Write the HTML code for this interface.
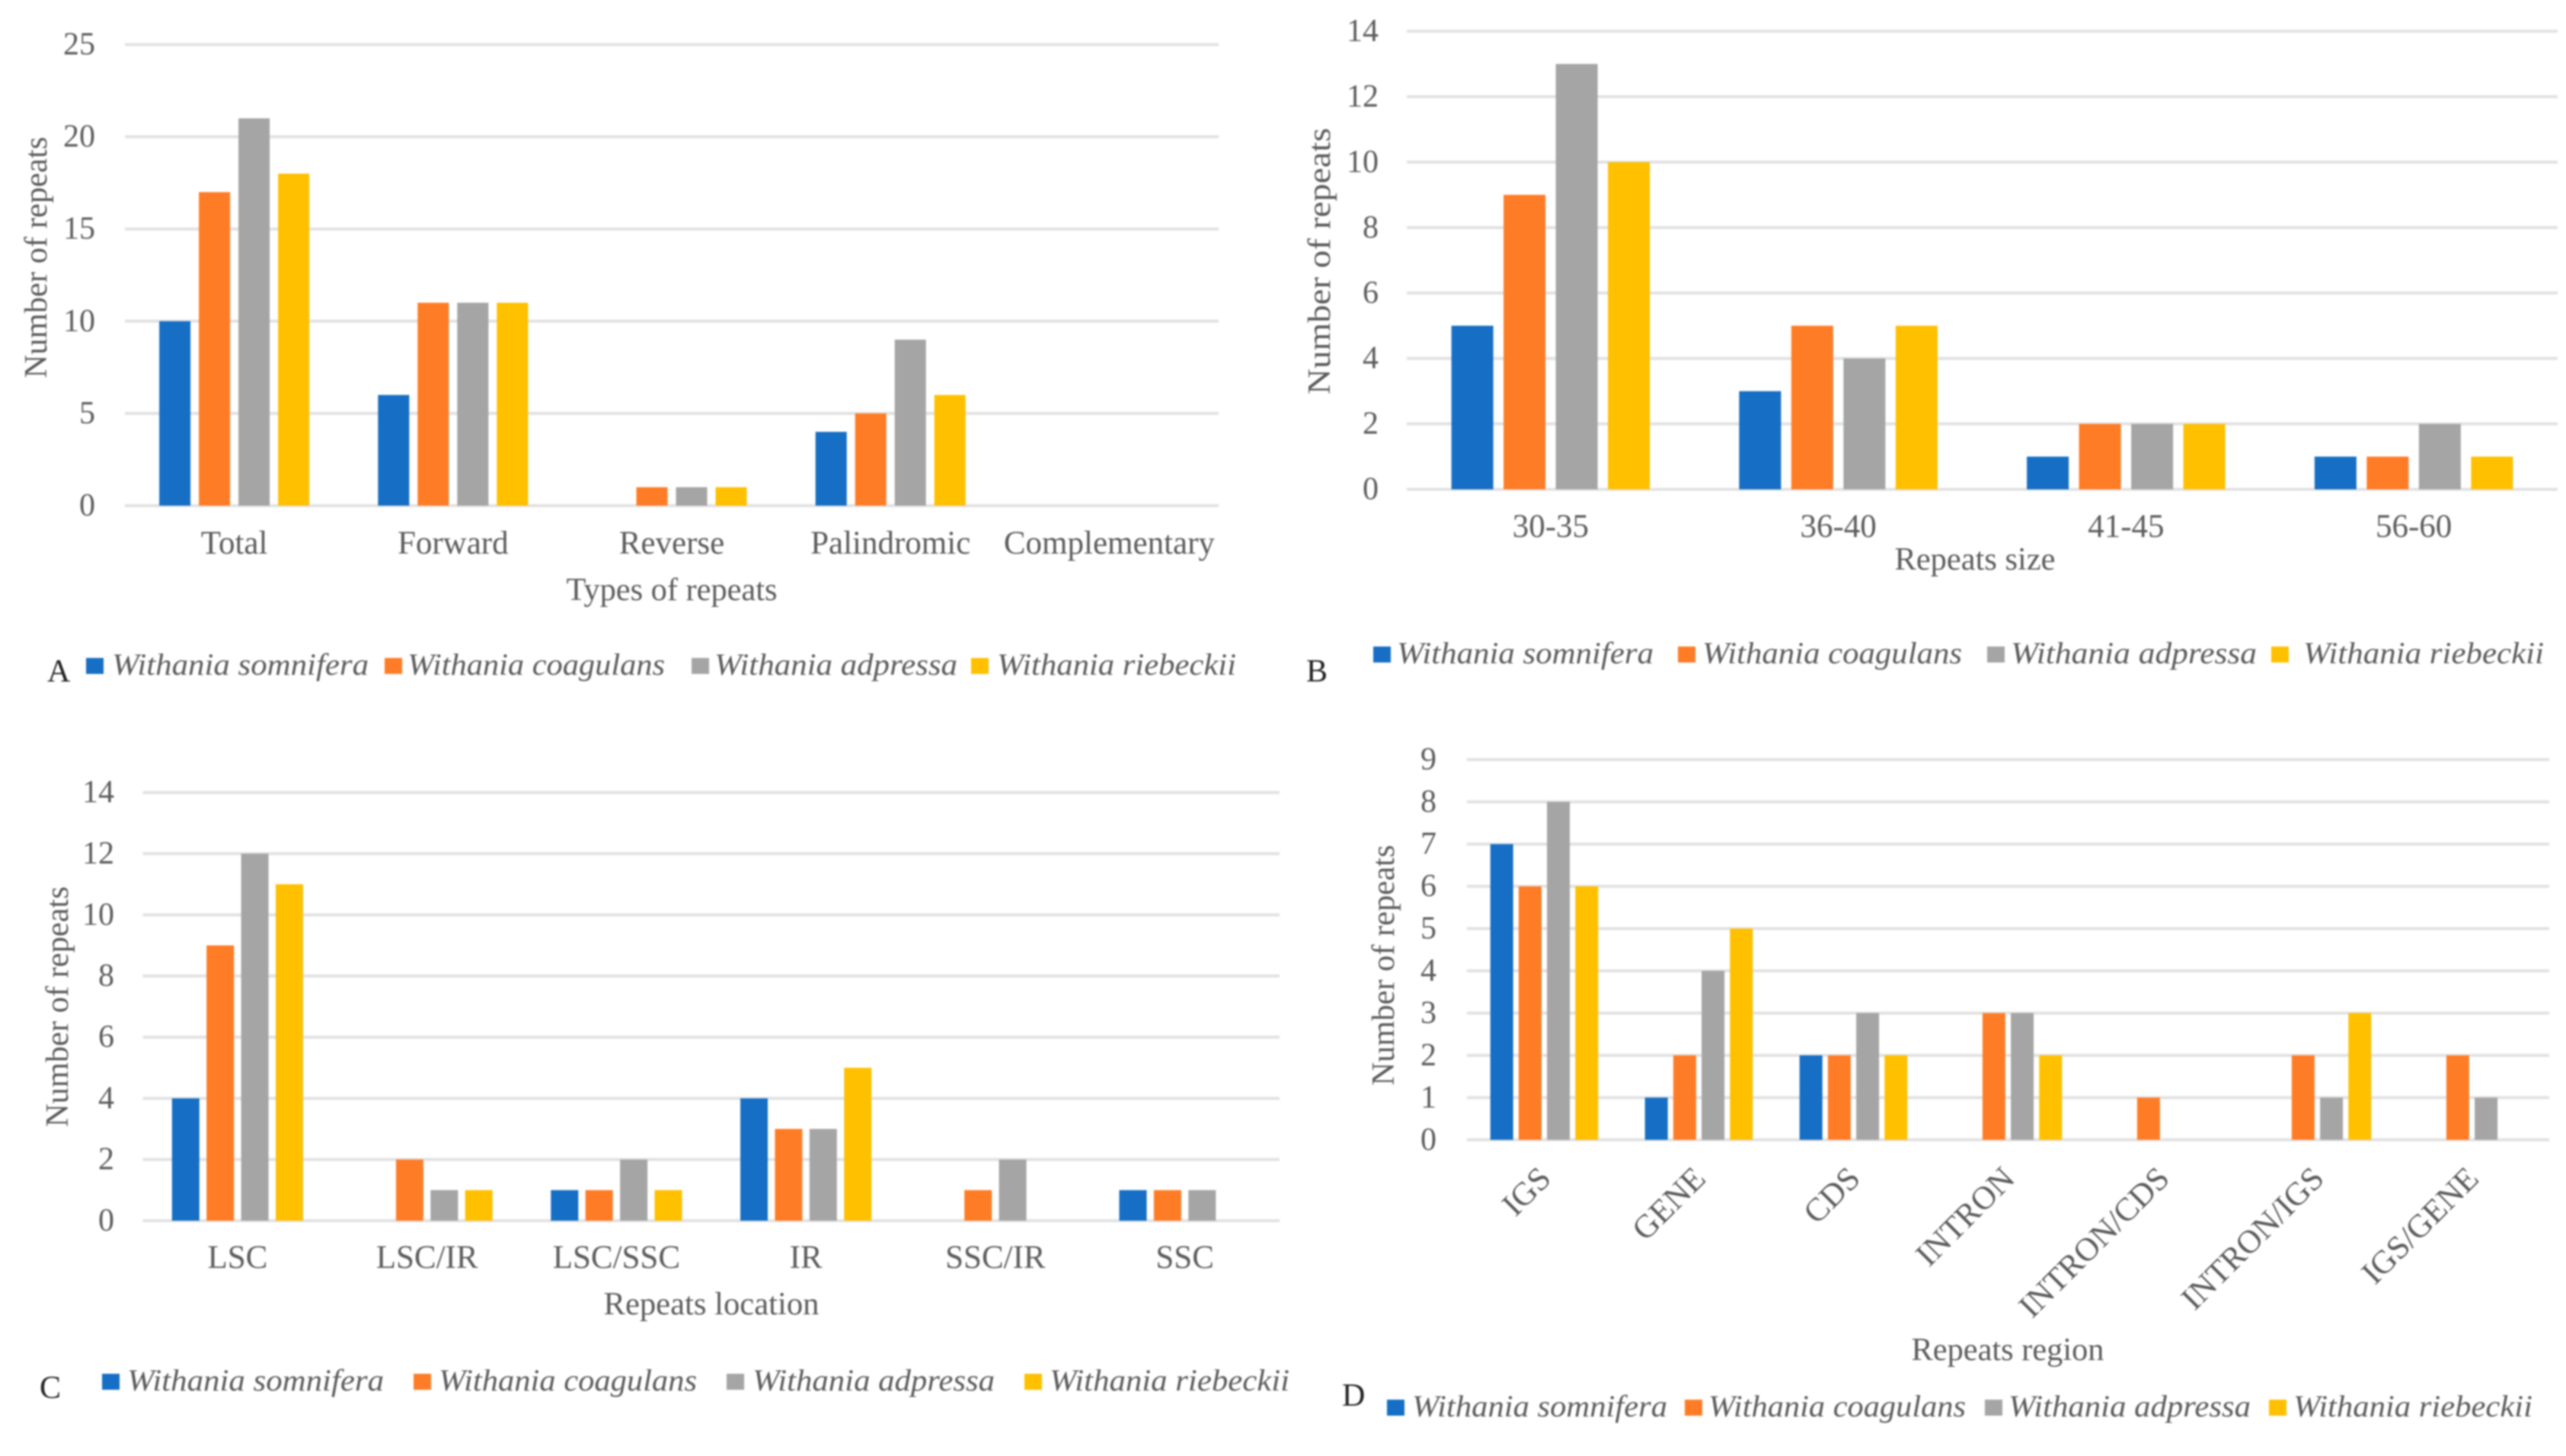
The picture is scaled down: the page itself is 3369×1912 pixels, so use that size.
<!DOCTYPE html>
<html lang="en">
<head>
<meta charset="utf-8">
<title>Repeat analysis in Withania species</title>
<style>
html,body{margin:0;padding:0;background:#fff;width:3369px;height:1912px;overflow:hidden}
svg{display:block;font-family:"Liberation Serif",serif;filter:blur(1px)}
</style>
</head>
<body>
<svg id="figure" xmlns="http://www.w3.org/2000/svg" width="3369" height="1912" viewBox="0 0 3369 1912"></svg>
<script>
// Shared series
const seriesNames = ['Withania somnifera', 'Withania coagulans', 'Withania adpressa', 'Withania riebeckii'];
const seriesColors = ['#166fc4', '#ff7c26', '#a5a5a5', '#ffc000'];

// Panel A data
const categoriesA = ['Total', 'Forward', 'Reverse', 'Palindromic', 'Complementary'];
const ticksA = [0, 5, 10, 15, 20, 25];
const somniferaA = [10, 6, 0, 4, 0];
const coagulansA = [17, 11, 1, 5, 0];
const adpressaA = [21, 11, 1, 9, 0];
const riebeckiiA = [18, 11, 1, 6, 0];

// Panel B data
const categoriesB = ['30-35', '36-40', '41-45', '56-60'];
const ticksB = [0, 2, 4, 6, 8, 10, 12, 14];
const somniferaB = [5, 3, 1, 1];
const coagulansB = [9, 5, 2, 1];
const adpressaB = [13, 4, 2, 2];
const riebeckiiB = [10, 5, 2, 1];

// Panel C data
const categoriesC = ['LSC', 'LSC/IR', 'LSC/SSC', 'IR', 'SSC/IR', 'SSC'];
const ticksC = [0, 2, 4, 6, 8, 10, 12, 14];
const somniferaC = [4, 0, 1, 4, 0, 1];
const coagulansC = [9, 2, 1, 3, 1, 1];
const adpressaC = [12, 1, 2, 3, 2, 1];
const riebeckiiC = [11, 1, 1, 5, 0, 0];

// Panel D data
const categoriesD = ['IGS', 'GENE', 'CDS', 'INTRON', 'INTRON/CDS', 'INTRON/IGS', 'IGS/GENE'];
const ticksD = [0, 1, 2, 3, 4, 5, 6, 7, 8, 9];
const somniferaD = [7, 1, 2, 0, 0, 0, 0];
const coagulansD = [6, 2, 2, 3, 1, 2, 2];
const adpressaD = [8, 4, 3, 3, 0, 1, 1];
const riebeckiiD = [6, 5, 2, 2, 0, 3, 0];

const SVG_NS = 'http://www.w3.org/2000/svg';
const TEXT_COLOR = '#5c5c5c';
const figure = document.getElementById('figure');

function shape(parent, tag, props) {
  const el = document.createElementNS(SVG_NS, tag);
  for (const k in props) el.setAttribute(k, props[k]);
  parent.appendChild(el);
  return el;
}

function label(parent, str, x, y, size, anchor, style) {
  const el = shape(parent, 'text', {
    x: x, y: y, 'font-size': size, 'text-anchor': anchor,
    fill: (style && style.fill) || TEXT_COLOR
  });
  if (style && style.italic) el.setAttribute('font-style', 'italic');
  if (style && style.length) {
    el.setAttribute('textLength', style.length);
    el.setAttribute('lengthAdjust', 'spacingAndGlyphs');
  }
  if (style && style.transform) el.setAttribute('transform', style.transform);
  el.textContent = str;
  return el;
}

function drawPanel(p) {
  const g = shape(figure, 'g', {});
  
  

  const maxTick = p.ticks[p.ticks.length - 1];
  const yScale = v => p.y0 - (v / maxTick) * (p.y0 - p.yTop);
  const groupW = (p.x1 - p.x0) / p.categories.length;
  const xCenter = i => p.x0 + (i + 0.5) * groupW;

  // gridlines + y tick labels
  p.ticks.forEach(t => {
    const line = shape(g, 'line', {
      x1: p.x0, x2: p.x1, y1: yScale(t), y2: yScale(t),
      stroke: '#e2e2e2', 'stroke-width': 4
    });
    
    
    const tl = label(g, String(t), p.tickRight, yScale(t) + 13, 42, 'end');
    
    
  });

  // bars
  p.series.forEach((vals, s) => {
    vals.forEach((v, i) => {
      const x = xCenter(i) + (s - 1.5) * p.pitch - p.barW / 2;
      const bar = shape(g, 'rect', {
        x: x, y: yScale(v), width: p.barW, height: Math.max(0, p.y0 - yScale(v)),
        fill: seriesColors[s]
      });
      
      
    });
  });

  // category labels
  p.categories.forEach((c, i) => {
    let cl;
    if (p.rotated) {
      const ax = xCenter(i) + 11, ay = p.catY;
      cl = label(g, c, ax, ay, 43, 'end', { transform: 'rotate(-45 ' + ax + ' ' + ay + ')' });
    } else {
      cl = label(g, c, xCenter(i), p.catY, 43, 'middle');
    }
    
    
  });

  // axis titles
  const xt = label(g, p.xTitle, p.xTitleX, p.xTitleY, 42, 'middle', { length: p.xTitleLen });
  
  
  const yt = label(g, 'Number of repeats', p.yTitleX, p.yTitleY, 42, 'middle', {
    length: p.yTitleLen,
    transform: 'rotate(-90 ' + p.yTitleX + ' ' + p.yTitleY + ')'
  });
  
  

  // legend
  p.legend.forEach((e, s) => {
    const sw = shape(g, 'rect', { x: e.sx, y: p.legendY - 11, width: 23, height: 21, fill: seriesColors[s] });
    
    
    const lt = label(g, seriesNames[s], e.tx, p.legendY + 11, 40, 'start', { italic: true, length: e.tw });
    
    
  });

  // panel letter
  const pl = label(g, p.id, p.letterX, p.letterY, 42, 'start', { fill: '#222' });
  
  
}

drawPanel({
  id: 'A', categories: categoriesA, ticks: ticksA,
  series: [somniferaA, coagulansA, adpressaA, riebeckiiA],
  x0: 164, x1: 1600, y0: 664, yTop: 58.5, barW: 41, pitch: 52,
  tickRight: 125, catY: 727, xTitle: 'Types of repeats', xTitleX: 882, xTitleY: 788, xTitleLen: 277,
  yTitleX: 61, yTitleY: 338, yTitleLen: 317,
  legendY: 875,
  legend: [{ sx: 113, tx: 147, tw: 337 }, { sx: 505, tx: 535, tw: 338 }, { sx: 908, tx: 938, tw: 319 }, { sx: 1275, tx: 1309, tw: 314 }],
  letterX: 62, letterY: 895
});

drawPanel({
  id: 'B', categories: categoriesB, ticks: ticksB,
  series: [somniferaB, coagulansB, adpressaB, riebeckiiB],
  x0: 1847, x1: 3358, y0: 642.6, yTop: 41, barW: 55, pitch: 68.5,
  tickRight: 1810, catY: 705, xTitle: 'Repeats size', xTitleX: 2593, xTitleY: 748, xTitleLen: 211,
  yTitleX: 1746, yTitleY: 343, yTitleLen: 350,
  legendY: 860,
  legend: [{ sx: 1803, tx: 1834, tw: 337 }, { sx: 2203, tx: 2235, tw: 341 }, { sx: 2609, tx: 2640, tw: 323 }, { sx: 2982, tx: 3024, tw: 316 }],
  letterX: 1715, letterY: 895
});

drawPanel({
  id: 'C', categories: categoriesC, ticks: ticksC,
  series: [somniferaC, coagulansC, adpressaC, riebeckiiC],
  x0: 187.5, x1: 1680, y0: 1603, yTop: 1040.7, barW: 36, pitch: 45.4,
  tickRight: 150, catY: 1665, xTitle: 'Repeats location', xTitleX: 934, xTitleY: 1726, xTitleLen: 283,
  yTitleX: 89, yTitleY: 1322, yTitleLen: 316,
  legendY: 1815,
  legend: [{ sx: 134, tx: 167, tw: 337 }, { sx: 543, tx: 576, tw: 339 }, { sx: 954, tx: 988, tw: 318 }, { sx: 1345, tx: 1378, tw: 315 }],
  letterX: 52, letterY: 1836
});

drawPanel({
  id: 'D', categories: categoriesD, ticks: ticksD, rotated: true,
  series: [somniferaD, coagulansD, adpressaD, riebeckiiD],
  x0: 1926, x1: 3347, y0: 1496.8, yTop: 997.5, barW: 30, pitch: 37.2,
  tickRight: 1886, catY: 1550, xTitle: 'Repeats region', xTitleX: 2636, xTitleY: 1786, xTitleLen: 253,
  yTitleX: 1830, yTitleY: 1267.5, yTitleLen: 316,
  legendY: 1849,
  legend: [{ sx: 1821, tx: 1854, tw: 335 }, { sx: 2212, tx: 2243, tw: 338 }, { sx: 2606, tx: 2637, tw: 318 }, { sx: 2979, tx: 3011, tw: 314 }],
  letterX: 1762, letterY: 1846
});
</script>
</body>
</html>
